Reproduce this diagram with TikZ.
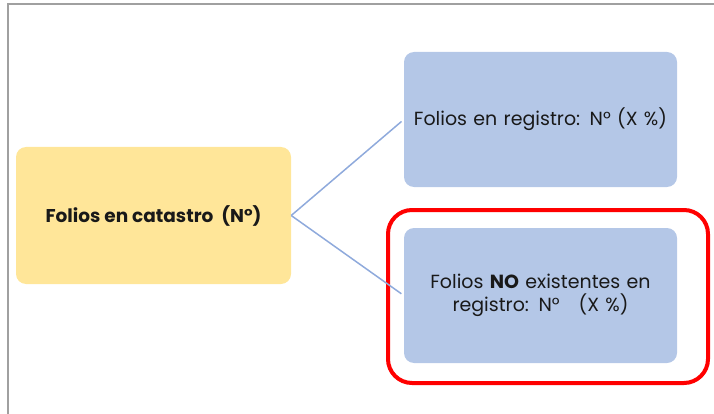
\documentclass[tikz,border=0pt]{standalone}
\usepackage{fontspec}
\setmainfont{Poppins}
\definecolor{amarillo}{HTML}{FFE699}
\definecolor{azulcaja}{HTML}{B4C7E7}
\definecolor{azullinea}{HTML}{8FAADC}
\definecolor{rojo}{HTML}{FF0000}
\definecolor{marco}{HTML}{A0A0A0}
\usetikzlibrary{positioning}

\begin{document}
\begin{tikzpicture}[
  x=1pt, y=-1pt,
  caja/.style={rounded corners=10pt, align=center, inner sep=4pt,
               font=\fontsize{19}{23}\selectfont, text=black!90},
  origen/.style={caja, fill=amarillo, minimum width=275pt, minimum height=137pt,
                 font=\fontsize{18.5}{23}\selectfont\bfseries},
  destino/.style={caja, fill=azulcaja, minimum width=273pt, minimum height=135pt,
                  text width=265pt},
  conector/.style={draw=azullinea, line width=1.5pt, shorten >=3pt},
]
\useasboundingbox (0,0) rectangle (714,414);
% marco de la captura
\draw[marco, line width=2pt] (8,414) -- (8,4) -- (714,4);

\node[origen] (catastro) at (153.5,215.5) {Folios en catastro~ (N°)};
\node[destino] (registro) at (540.5,119.5) {Folios en registro: N° (X~\%)};
\node[destino] (noexiste) at (540.5,295.5) {Folios \textbf{NO} existentes en\\registro: N°~~ (X~\%)};

% recuadro de resalte
\node[draw=rojo, line width=4pt, rounded corners=24pt,
      minimum width=320pt, minimum height=173pt] (resalte) at (548,296.5) {};

\draw[conector] (catastro.east) -- (registro.west);
\draw[conector] (catastro.east) -- (noexiste.west);
\end{tikzpicture}
\end{document}
